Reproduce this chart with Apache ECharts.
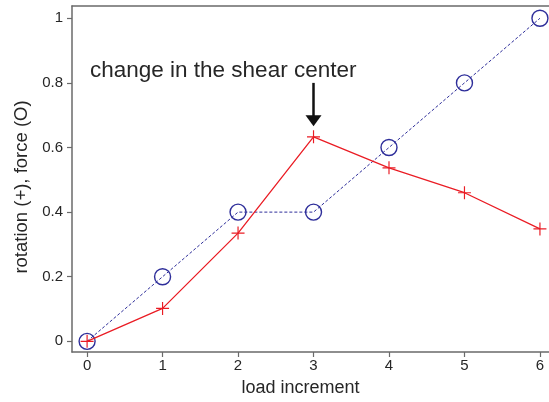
<!DOCTYPE html>
<html>
<head>
<meta charset="utf-8">
<script src="https://cdn.jsdelivr.net/npm/echarts@6/dist/echarts.min.js"></script>
<style>
  html, body { margin: 0; padding: 0; background: #fff; }
  #chart { width: 549px; height: 402px; }
</style>
</head>
<body>
<div id="chart"></div>
<script>
// Load steps and the two normalised responses
const loadSteps = [0, 1, 2, 3, 4, 5, 6];
const forceValues = [0, 0.2, 0.4, 0.4, 0.6, 0.8, 1.0];
const rotationValues = [0, 0.102, 0.335, 0.633, 0.537, 0.46, 0.348];
const yTicks = [0, 0.2, 0.4, 0.6, 0.8, 1];

// Annotation: arrow drawn at step 3 from 0.8 down towards the rotation peak
const noteText = 'change in the shear center';
const arrowStep = 3;
const arrowFrom = 0.8;
const arrowTo = 0.683;

const FONT = '"Liberation Sans", Arial, Helvetica, sans-serif';
const AXIS_COLOR = '#6a6a6a';
const TEXT_COLOR = '#262626';
const BLUE = '#2e2e9a';
const RED = '#ea1c24';

const plusPath = 'path://M-0.09,-1H0.09V-0.09H1V0.09H0.09V1H-0.09V0.09H-1V-0.09H-0.09Z';

const chart = echarts.init(document.getElementById('chart'), null, { renderer: 'canvas' });

chart.setOption({
  backgroundColor: '#ffffff',
  animation: false,
  grid: { left: 72, right: 0, top: 6, bottom: 47, containLabel: false },
  xAxis: [
    {
      type: 'value',
      min: -0.2,
      max: 6.12,
      interval: 1,
      name: 'load increment',
      nameLocation: 'middle',
      nameGap: 27,
      nameTextStyle: { fontFamily: FONT, fontSize: 18, color: TEXT_COLOR, padding: [0, 20, 0, 0] },
      axisLine: { onZero: false, lineStyle: { color: AXIS_COLOR, width: 1.5 } },
      axisTick: { show: true, length: 5, inside: false, lineStyle: { color: AXIS_COLOR, width: 1.2 },
                  customValues: loadSteps },
      axisLabel: { fontFamily: FONT, fontSize: 15, color: TEXT_COLOR, margin: 6,
                   customValues: loadSteps, formatter: v => String(v) },
      splitLine: { show: false }
    },
    {
      type: 'value',
      position: 'top',
      min: -0.2,
      max: 6.12,
      axisLine: { onZero: false, lineStyle: { color: AXIS_COLOR, width: 1.5 } },
      axisTick: { show: false },
      axisLabel: { show: false },
      splitLine: { show: false }
    }
  ],
  yAxis: {
    type: 'value',
    min: -0.033,
    max: 1.038,
    name: 'rotation (+), force (O)',
    nameLocation: 'middle',
    nameGap: 40,
    nameRotate: 90,
    nameTextStyle: { fontFamily: FONT, fontSize: 18.5, color: TEXT_COLOR, padding: [0, 16, 0, 0] },
    axisLine: { show: true, onZero: false, lineStyle: { color: AXIS_COLOR, width: 1.5 } },
    axisTick: { show: true, length: 5, inside: false, lineStyle: { color: AXIS_COLOR, width: 1.2 },
                customValues: yTicks },
    axisLabel: { fontFamily: FONT, fontSize: 15, color: TEXT_COLOR, margin: 9,
                 customValues: yTicks, formatter: v => String(v) },
    splitLine: { show: false }
  },
  series: [
    {
      name: 'force',
      type: 'line',
      data: loadSteps.map((x, i) => [x, forceValues[i]]),
      symbol: 'circle',
      symbolSize: 16,
      showAllSymbol: true,
      lineStyle: { color: BLUE, width: 1, type: [3, 2] },
      itemStyle: { color: 'rgba(0,0,0,0)', borderColor: BLUE, borderWidth: 1.4 },
      z: 2
    },
    {
      name: 'rotation',
      type: 'line',
      data: loadSteps.map((x, i) => [x, rotationValues[i]]),
      symbol: plusPath,
      symbolSize: 13,
      showAllSymbol: true,
      lineStyle: { color: RED, width: 1.3 },
      itemStyle: { color: RED, borderWidth: 0 },
      z: 3,
      markLine: {
        silent: true,
        symbol: ['none', 'triangle'],
        symbolSize: [16, 11],
        lineStyle: { color: '#111111', width: 2.5, type: 'solid' },
        label: { show: false },
        data: [[{ coord: [arrowStep, arrowFrom] }, { coord: [arrowStep, arrowTo] }]]
      }
    }
  ],
  graphic: [
    {
      type: 'text',
      left: 90,
      top: 59,
      style: { text: noteText, fontFamily: FONT, fontSize: 22.5, fill: TEXT_COLOR }
    }
  ]
});
</script>
</body>
</html>
